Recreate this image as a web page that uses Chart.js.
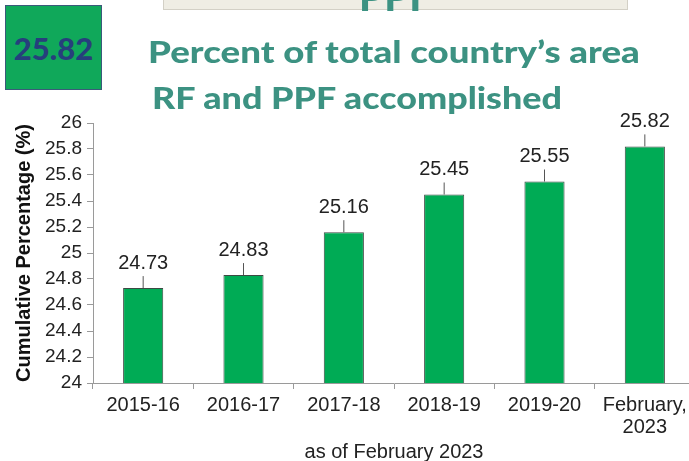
<!DOCTYPE html>
<html>
<head>
<meta charset="utf-8">
<script src="https://cdn.jsdelivr.net/npm/chart.js@4"></script>
<style>
  html, body { margin: 0; padding: 0; background: #fff; overflow: hidden; width: 689px; height: 461px; }
  #wrap { position: relative; width: 689px; height: 461px; overflow: hidden; }
  #chartBox { position: absolute; left: 0; top: 0; width: 695px; height: 464px; }
  .topbox { position: absolute; left: 163px; top: -2px; width: 463px; height: 10px; background: #efede4; border: 1px solid #d3d0c6; }
  .ppf { position: absolute; left: 163px; width: 465px; top: -28px; line-height: 40px; text-align: center; font: 900 40px Lato, sans-serif; color: #3c9282; }
  .badge { position: absolute; left: 5px; top: 5px; width: 97px; height: 85px; background: #10a85a; border: 1px solid #3b5a7a; box-sizing: border-box; display: flex; align-items: center; justify-content: center; font: 900 31px Lato, sans-serif; color: #263f7c; }
  .head { position: absolute; font: 900 30px Lato, sans-serif; color: #3c9282; white-space: nowrap; transform-origin: left top; }
</style>
</head>
<body>
<div id="wrap">
  <div id="chartBox"><canvas id="myChart"></canvas></div>
  <div class="topbox"></div>
  <div class="ppf">PPF</div>
  <div class="badge">25.82</div>
  <div class="head" id="h1" style="left:148px; top:33px;">Percent of total country’s area</div>
  <div class="head" id="h2" style="left:152px; top:79px;">RF and PPF accomplished</div>
</div>
<script>
// Forest cover chart data
const years = ["2015-16", "2016-17", "2017-18", "2018-19", "2019-20", ["February,", "2023"]];
const percents = [24.73, 24.83, 25.16, 25.45, 25.55, 25.82];
const yTitle = "Cumulative Percentage (%)";
const xTitle = "as of February 2023";

const font = "'Liberation Sans', Arial, sans-serif";

// stretch headings to the width they have in the picture
function fitWidth(id, w) {
  const el = document.getElementById(id);
  el.style.transform = "scaleX(" + (w / el.offsetWidth) + ")";
}
fitWidth("h1", 492);
fitWidth("h2", 410);

// value labels with a short leader line
const barLabels = {
  id: "barLabels",
  afterDatasetsDraw(chart) {
    const ctx = chart.ctx;
    const meta = chart.getDatasetMeta(0);
    ctx.save();
    meta.data.forEach((bar, i) => {
      ctx.strokeStyle = "#555";
      ctx.lineWidth = 1;
      ctx.beginPath();
      ctx.moveTo(bar.x, bar.y);
      ctx.lineTo(bar.x, bar.y - 12);
      ctx.stroke();
      ctx.fillStyle = "#222";
      ctx.font = "20px " + font;
      ctx.textAlign = "center";
      ctx.textBaseline = "middle";
      ctx.fillText(percents[i].toFixed(2), bar.x, bar.y - 25);
    });
    ctx.restore();
  },
};

const ctx = document.getElementById("myChart");

new Chart(ctx, {
  type: "bar",
  data: {
    labels: years,
    datasets: [
      {
        data: percents,
        backgroundColor: "#00ab55",
        borderColor: "#3d4a44",
        borderWidth: 1,
        categoryPercentage: 1,
        barPercentage: 0.4,
      },
    ],
  },
  options: {
    responsive: true,
    maintainAspectRatio: false,
    animation: false,
    layout: { padding: { top: 123, left: 12, right: 0, bottom: 0 } },
    plugins: { legend: { display: false }, tooltip: { enabled: false } },
    scales: {
      y: {
        min: 24,
        max: 26,
        afterFit: (scale) => { scale.width = 81; },
        ticks: {
          stepSize: 0.2,
          color: "#222",
          padding: 5,
          font: { family: font, size: 19 },
          callback: (value) => String(+value.toFixed(1)),
        },
        grid: { drawOnChartArea: false, drawTicks: true, tickLength: 6, color: "#9a9a9a" },
        border: { color: "#9a9a9a" },
        title: {
          display: true,
          text: yTitle,
          color: "#111",
          padding: { top: 0, bottom: 2 },
          font: { family: font, size: 20, weight: "bold" },
        },
      },
      x: {
        afterFit: (scale) => { scale.height = 81; },
        ticks: {
          color: "#222",
          padding: 5,
          maxRotation: 0,
          font: { family: font, size: 20, lineHeight: 1.1 },
        },
        grid: { offset: true, drawOnChartArea: false, drawTicks: true, tickLength: 6, color: "#9a9a9a" },
        border: { color: "#9a9a9a" },
        title: {
          display: true,
          text: xTitle,
          color: "#222",
          padding: { top: 4, bottom: 0 },
          font: { family: font, size: 20 },
        },
      },
    },
  },
  plugins: [barLabels],
});
</script>
</body>
</html>
